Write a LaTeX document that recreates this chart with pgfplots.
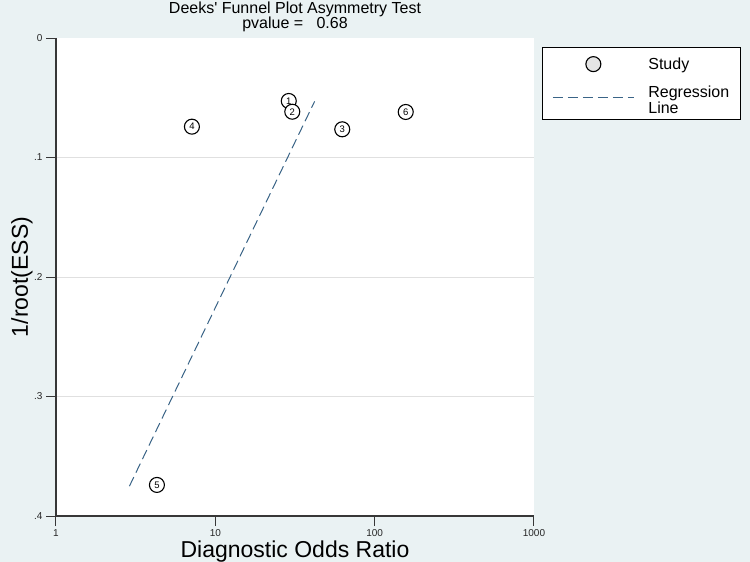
\documentclass[border=0pt]{standalone}
\usepackage{pgfplots}
\pgfplotsset{compat=1.18}
\usepackage{fontspec}
\setmainfont{Liberation Sans}
\definecolor{bgc}{RGB}{234,242,243}
\definecolor{regc}{RGB}{58,100,135}
\definecolor{axc}{RGB}{55,55,55}
\pgfplotsset{mylegimg/.style={legend image code/.code={\draw[mark repeat=2,mark phase=2,##1] plot coordinates {(0pt,0pt) (40.5pt,0pt) (81pt,0pt)};}}}
\begin{document}
\begin{tikzpicture}
\fill[bgc] (-56pt,-46pt) rectangle (694pt,516pt);
\useasboundingbox (-56pt,-46pt) rectangle (694pt,516pt);
\begin{axis}[
  at={(0pt,0pt)}, anchor=south west,
  scale only axis, width=478pt, height=478pt,
  xmode=log, xmin=1, xmax=1000, ymin=0, ymax=0.4, y dir=reverse,
  axis background/.style={fill=white},
  axis line style={draw=none},
  xtick={1,10,100,1000}, xticklabels={1,10,100,1000},
  xminorticks=false,
  ytick={0,0.1,0.2,0.3,0.4}, yticklabels={0,.1,.2,.3,.4},
  tick align=outside, major tick length=10pt,
  tick style={axc, line width=1pt},
  ytick pos=left, xtick pos=left,
  ticklabel style={font=\fontsize{10}{12}\selectfont, text=black!85},
  extra y ticks={0.1,0.2,0.3}, extra y tick labels={},
  extra y tick style={grid=major, major grid style={black!12, line width=0.8pt}, major tick length=0pt},
  mylegimg,
  legend style={draw=black, line width=0.8pt, fill=white, at={(1.0167,0.981)}, anchor=north west,
    inner xsep=10pt, inner ysep=8pt, row sep=11pt, column sep=12pt, font=\fontsize{16}{16}\selectfont, cells={anchor=west}},
]
\addplot[only marks, mark=*, mark size=7.5pt, mark options={fill=white, draw=black, line width=1.1pt},
  nodes near coords, point meta=explicit symbolic,
  nodes near coords style={anchor=center, font=\fontsize{9.5}{10}\selectfont, inner sep=0pt},
  forget plot] table[meta=lab] {
x y lab
28.9 0.0527 1
30.4 0.0617 2
62.6 0.0764 3
7.13 0.0742 4
4.30 0.374 5
156.7 0.0619 6
};
\addlegendimage{only marks, mark=*, mark size=7.5pt, mark options={fill=black!10, draw=black, line width=1.1pt}, mylegimg}
\addlegendentry{\parbox[c]{80pt}{Study}}
\addplot[regc, line width=1pt, dash pattern=on 10pt off 5pt, mylegimg] coordinates {(2.89,0.375) (42,0.053)};
\addlegendentry{\parbox[c]{80pt}{\fontsize{16}{16}\selectfont Regression\\Line\rule[-8pt]{0pt}{8pt}}}
\end{axis}
\draw[axc, line width=1.2pt] (0pt,478pt) -- (0pt,0pt) -- (478pt,0pt);
\node[font=\fontsize{16}{18}\selectfont, anchor=base] at (239pt,502pt) {Deeks\textquotesingle{} Funnel Plot Asymmetry Test};
\node[font=\fontsize{16}{18}\selectfont, anchor=base] at (239pt,487pt) {pvalue =\ \ \ 0.68};
\node[font=\fontsize{23}{26}\selectfont, anchor=base] at (239pt,-42pt) {Diagnostic Odds Ratio};
\node[font=\fontsize{23}{26}\selectfont, anchor=base, rotate=90] at (-28pt,239pt) {1/root(ESS)};
\end{tikzpicture}
\end{document}
